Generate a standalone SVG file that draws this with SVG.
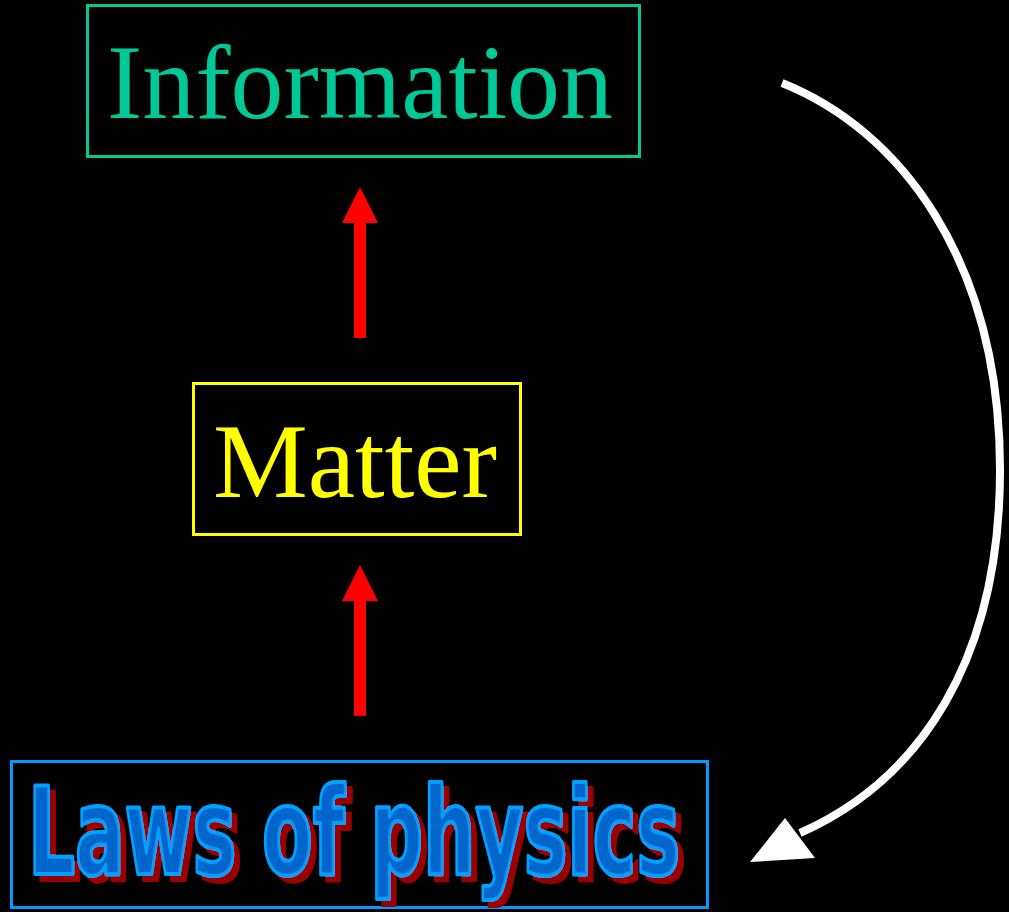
<svg xmlns="http://www.w3.org/2000/svg" width="1009" height="912" viewBox="0 0 1009 912">
<style>
.box{fill:none;stroke-width:3}
.serif{font-family:"Liberation Serif","Times New Roman",serif;font-size:106px}
.laws{font-family:"DejaVu Sans Condensed","Liberation Sans",sans-serif;font-weight:bold;font-size:122px}
.red{fill:#ff0000}
</style>
<defs>
<filter id="shadow" x="-5%" y="-20%" width="115%" height="150%">
<feFlood flood-color="#990000" result="c"/>
<feComposite in="c" in2="SourceAlpha" operator="in" result="s"/>
<feOffset in="s" dx="6" dy="6" result="o"/>
<feMerge><feMergeNode in="o"/><feMergeNode in="SourceGraphic"/></feMerge>
</filter>
</defs>
<rect width="1009" height="912" fill="#000"/>
<g id="information">
<rect class="box" x="87.5" y="5.5" width="552" height="151" stroke="#00c896"/>
<text class="serif" x="107" y="118" fill="#00c896" textLength="506" lengthAdjust="spacingAndGlyphs">Information</text>
</g>
<g id="matter">
<rect class="box" x="193.5" y="383.5" width="327" height="151" stroke="#ffff00"/>
<text class="serif" x="213" y="497" fill="#ffff00" textLength="284" lengthAdjust="spacingAndGlyphs">Matter</text>
</g>
<g id="laws">
<rect class="box" x="11.5" y="761.5" width="696" height="146" stroke="#0099ff"/>
<text class="laws" x="28" y="874" fill="#0066cc" stroke="#00a0ff" stroke-width="4" stroke-linejoin="round" textLength="652" lengthAdjust="spacingAndGlyphs" filter="url(#shadow)">Laws of physics</text>
</g>
<g id="connectors">
<polygon class="red" points="354,338 354,223 342,223 360,187 378,223 366,223 366,338"/>
<polygon class="red" points="354,716 354,601 342,601 360,565 378,601 366,601 366,716"/>
<path d="M782,83 C900,130 1000,260 1000,470 C1000,660 920,780 800,833" fill="none" stroke="#ffffff" stroke-width="8"/>
<polygon points="750,862 785,818 815,858" fill="#ffffff"/>
</g>
</svg>
